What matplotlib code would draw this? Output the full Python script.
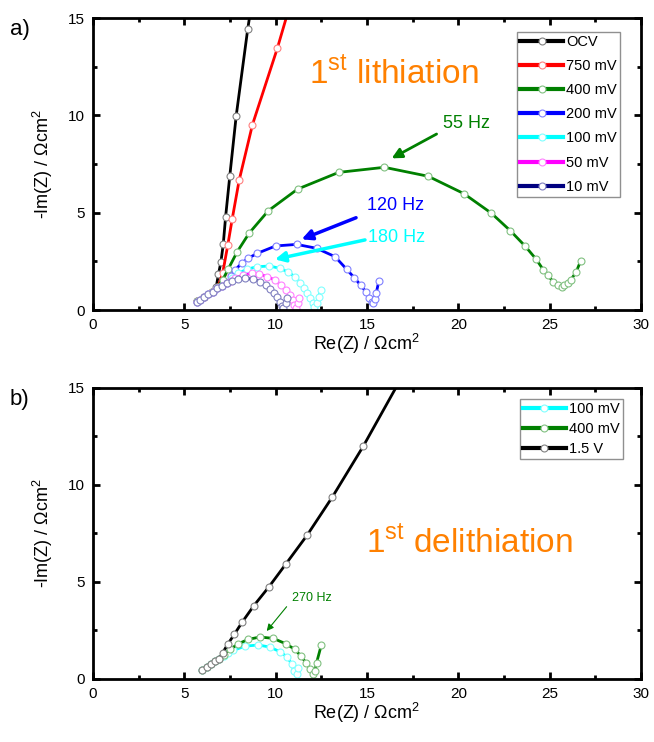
import matplotlib
matplotlib.use("Agg")
from matplotlib import pyplot as plt

plt.rcParams['font.family'] = ['Liberation Sans', 'DejaVu Sans']
plt.rcParams['mathtext.fontset'] = 'custom'
plt.rcParams['mathtext.rm'] = 'Liberation Sans'

# ---- panel a) first lithiation ----
ocv_x = [5.7, 6.1, 6.5, 6.75, 6.87, 7.0, 7.13, 7.26, 7.49, 7.84, 8.47, 9.3]
ocv_y = [0.45, 0.68, 0.95, 1.2, 1.85, 2.45, 3.37, 4.79, 6.9, 9.98, 14.43, 19.5]

mv750_x = [5.7, 6.1, 6.5, 6.85, 7.1, 7.38, 7.62, 8.0, 8.73, 10.09, 11.2]
mv750_y = [0.45, 0.68, 0.95, 1.2, 1.9, 3.34, 4.67, 6.66, 9.52, 13.44, 17.0]

mv400_x = [5.7, 6.1, 6.5, 6.85, 7.1, 7.4, 7.9, 8.55, 9.6, 11.2, 13.45, 15.95, 18.35,
           20.3, 21.8, 22.85, 23.65, 24.25, 24.65, 24.9, 25.2, 25.45, 25.65, 25.8,
           26.0, 26.15, 26.45, 26.7]
mv400_y = [0.45, 0.68, 0.95, 1.2, 1.55, 2.1, 3.0, 3.95, 5.1, 6.21, 7.07, 7.33, 6.87,
           5.98, 4.98, 4.07, 3.29, 2.62, 2.07, 1.78, 1.44, 1.28, 1.2, 1.28,
           1.39, 1.54, 1.95, 2.53]

mv200_x = [5.68, 5.86, 6.08, 6.31, 6.55, 6.8, 7.04, 7.32, 7.55, 7.77, 8.14, 8.5, 8.99,
           10.0, 11.15, 12.24, 13.25, 13.89, 14.3, 14.65, 14.93, 15.11, 15.25, 15.33,
           15.42, 15.5, 15.65]
mv200_y = [0.43, 0.51, 0.65, 0.81, 0.94, 1.11, 1.25, 1.37, 1.75, 2.05, 2.4, 2.66, 2.91,
           3.29, 3.37, 3.17, 2.74, 2.09, 1.66, 1.28, 0.94, 0.63, 0.43, 0.35,
           0.55, 0.85, 1.49]

mv100_x = [5.68, 5.86, 6.08, 6.31, 6.55, 6.8, 7.04, 7.32, 7.6, 7.95, 8.41, 8.96, 9.65,
           10.24, 10.69, 11.06, 11.33, 11.55, 11.73, 11.88, 12.02, 12.11, 12.24,
           12.37, 12.46]
mv100_y = [0.43, 0.51, 0.65, 0.81, 0.94, 1.11, 1.25, 1.37, 1.62, 1.88, 2.09, 2.22, 2.26,
           2.14, 1.94, 1.71, 1.4, 1.11, 0.86, 0.6, 0.38, 0.17, 0.34,
           0.68, 1.03]

mv50_x = [5.68, 5.86, 6.08, 6.31, 6.55, 6.8, 7.04, 7.32, 7.55, 7.77, 8.23, 8.69, 9.1,
          9.54, 9.96, 10.29, 10.56, 10.78, 10.93, 11.02, 11.11, 11.2, 11.28]
mv50_y = [0.43, 0.51, 0.65, 0.81, 0.94, 1.11, 1.25, 1.37, 1.5, 1.63, 1.8, 1.88, 1.85,
          1.71, 1.54, 1.28, 1.03, 0.77, 0.51, 0.26, 0.09, 0.34, 0.6]

mv10_x = [5.68, 5.86, 6.08, 6.31, 6.55, 6.8, 7.04, 7.32, 7.59, 7.95, 8.32, 8.77, 9.14,
          9.47, 9.69, 9.91, 10.09, 10.24, 10.33, 10.42, 10.56, 10.64]
mv10_y = [0.43, 0.51, 0.65, 0.81, 0.94, 1.11, 1.25, 1.37, 1.5, 1.58, 1.63, 1.58, 1.46,
          1.28, 1.06, 0.86, 0.65, 0.43, 0.2, 0.09, 0.34, 0.6]

# ---- panel b) first delithiation ----
d100_x = [5.98, 6.22, 6.46, 6.68, 6.91, 7.15, 7.4, 7.68, 8.32, 9.05, 9.69, 10.24,
          10.64, 10.88, 11.0, 11.15, 11.24]
d100_y = [0.45, 0.63, 0.79, 0.92, 1.04, 1.2, 1.35, 1.47, 1.69, 1.75, 1.64, 1.4,
          1.13, 0.75, 0.41, 0.24, 0.58]

d400_x = [5.98, 6.22, 6.46, 6.68, 6.91, 7.15, 7.5, 7.95, 8.5, 9.14, 9.87, 10.56,
          11.06, 11.38, 11.66, 11.88, 12.06, 12.15, 12.24, 12.5]
d400_y = [0.45, 0.63, 0.79, 0.92, 1.04, 1.25, 1.52, 1.81, 2.04, 2.16, 2.09, 1.81,
          1.52, 1.18, 0.84, 0.5, 0.24, 0.41, 0.84, 1.75]

d15_x = [5.98, 6.22, 6.46, 6.68, 6.91, 7.1, 7.37, 7.73, 8.17, 8.81, 9.63, 10.56,
         11.73, 13.1, 14.79, 17.3]
d15_y = [0.45, 0.63, 0.79, 0.92, 1.04, 1.35, 1.78, 2.29, 2.93, 3.78, 4.74, 5.92,
         7.41, 9.36, 11.97, 16.2]

top_series = [
    ("OCV", ocv_x, ocv_y, "#000000", "#808080"),
    ("750 mV", mv750_x, mv750_y, "#FF0000", "#FF8080"),
    ("400 mV", mv400_x, mv400_y, "#008000", "#80C080"),
    ("200 mV", mv200_x, mv200_y, "#0000FF", "#8080FF"),
    ("100 mV", mv100_x, mv100_y, "#00FFFF", "#80FFFF"),
    ("50 mV", mv50_x, mv50_y, "#FF00FF", "#FF80FF"),
    ("10 mV", mv10_x, mv10_y, "#000080", "#8080C0"),
]
bottom_series = [
    ("100 mV", d100_x, d100_y, "#00FFFF", "#80FFFF"),
    ("400 mV", d400_x, d400_y, "#008000", "#80C080"),
    ("1.5 V", d15_x, d15_y, "#000000", "#808080"),
]

fig = plt.figure(figsize=(6.54, 7.42), dpi=100)
ax1 = fig.add_axes([93/654, 1 - 310/742, 548/654, 292/742])
ax2 = fig.add_axes([93/654, 1 - 679/742, 548/654, 291.5/742])

ylab = "-Im(Z) / Ωcm$^{\\mathregular{2}}$"
xlab = "Re(Z) / Ωcm$^{\\mathregular{2}}$"


def style_axes(ax):
    ax.set_xlim(0, 30)
    ax.set_ylim(0, 15)
    ax.set_xticks([0, 5, 10, 15, 20, 25, 30])
    ax.set_yticks([0, 5, 10, 15])
    ax.set_xticks([2.5, 7.5, 12.5, 17.5, 22.5, 27.5], minor=True)
    ax.set_yticks([2.5, 7.5, 12.5], minor=True)
    ax.tick_params(which='both', direction='in', top=True, right=True, width=2,
                   labelsize=11)
    ax.tick_params(which='major', length=5, pad=6)
    ax.tick_params(which='minor', length=3)
    for s in ax.spines.values():
        s.set_linewidth(2)
    ax.set_xlabel(xlab, fontsize=13)
    ax.set_ylabel(ylab, fontsize=13)
    ax.xaxis.set_label_coords(0.5, -0.075)
    ax.yaxis.set_label_coords(-0.07, 0.5)


for ax, series in [(ax1, top_series), (ax2, bottom_series)]:
    for name, x, y, c, mc in series:
        ax.plot(x, y, '-o', color=c, lw=2, ms=5, mfc='white', mec=mc, mew=0.8,
                label=name)
    style_axes(ax)

leg1 = ax1.legend(loc='upper right', bbox_to_anchor=(0.9617, 0.953), borderaxespad=0,
                  fontsize=10.5, numpoints=1, handlelength=3.0, handletextpad=0.2,
                  labelspacing=0.7, borderpad=0.2, fancybox=False, framealpha=1)
leg1.get_frame().set_edgecolor('#909090')
leg1.get_frame().set_linewidth(1)
for ln in leg1.get_lines():
    ln.set_linewidth(3)

leg2 = ax2.legend(loc='upper right', bbox_to_anchor=(0.967, 0.96), borderaxespad=0,
                  fontsize=10.5, numpoints=1, handlelength=3.0, handletextpad=0.2,
                  labelspacing=0.4, borderpad=0.2, fancybox=False, framealpha=1)
leg2.get_frame().set_edgecolor('#909090')
leg2.get_frame().set_linewidth(1)
for ln in leg2.get_lines():
    ln.set_linewidth(3)

orange = '#FF8000'
ax1.text(16.47, 11.66, "1$^{\\mathregular{st}}$ lithiation", color=orange, fontsize=24,
         ha='center', va='baseline')
ax2.text(20.6, 6.49, "1$^{\\mathregular{st}}$ delithiation", color=orange, fontsize=24,
         ha='center', va='baseline')

# frequency markers
ax1.annotate("", xy=(16.35, 7.79), xytext=(18.81, 9.04),
             arrowprops=dict(arrowstyle='-|>', color='#008000', lw=2, mutation_scale=15,
                             shrinkA=0, shrinkB=0))
ax1.text(19.17, 9.6, "55 Hz", color='#008000', fontsize=13, va='center')
ax1.annotate("", xy=(11.42, 3.63), xytext=(14.4, 4.74),
             arrowprops=dict(arrowstyle='-|>', color='#0000FF', lw=2.5, mutation_scale=15,
                             shrinkA=0, shrinkB=0))
ax1.text(14.98, 5.37, "120 Hz", color='#0000FF', fontsize=13, va='center')
ax1.annotate("", xy=(9.96, 2.6), xytext=(14.89, 3.6),
             arrowprops=dict(arrowstyle='-|>', color='#00FFFF', lw=2.5, mutation_scale=15,
                             shrinkA=0, shrinkB=0))
ax1.text(15.07, 3.7, "180 Hz", color='#00FFFF', fontsize=13, va='center')

ax2.annotate("", xy=(9.51, 2.47), xytext=(10.6, 3.72),
             arrowprops=dict(arrowstyle='-|>', color='#008000', lw=0.8, mutation_scale=10,
                             shrinkA=0, shrinkB=0))
ax2.text(10.88, 4.17, "270 Hz", color='#008000', fontsize=9, va='center')

fig.text(10/654, 1 - 30/742, "a)", fontsize=16, va='center')
fig.text(10/654, 1 - 400/742, "b)", fontsize=16, va='center')

fig.savefig("out.png", dpi=100)
